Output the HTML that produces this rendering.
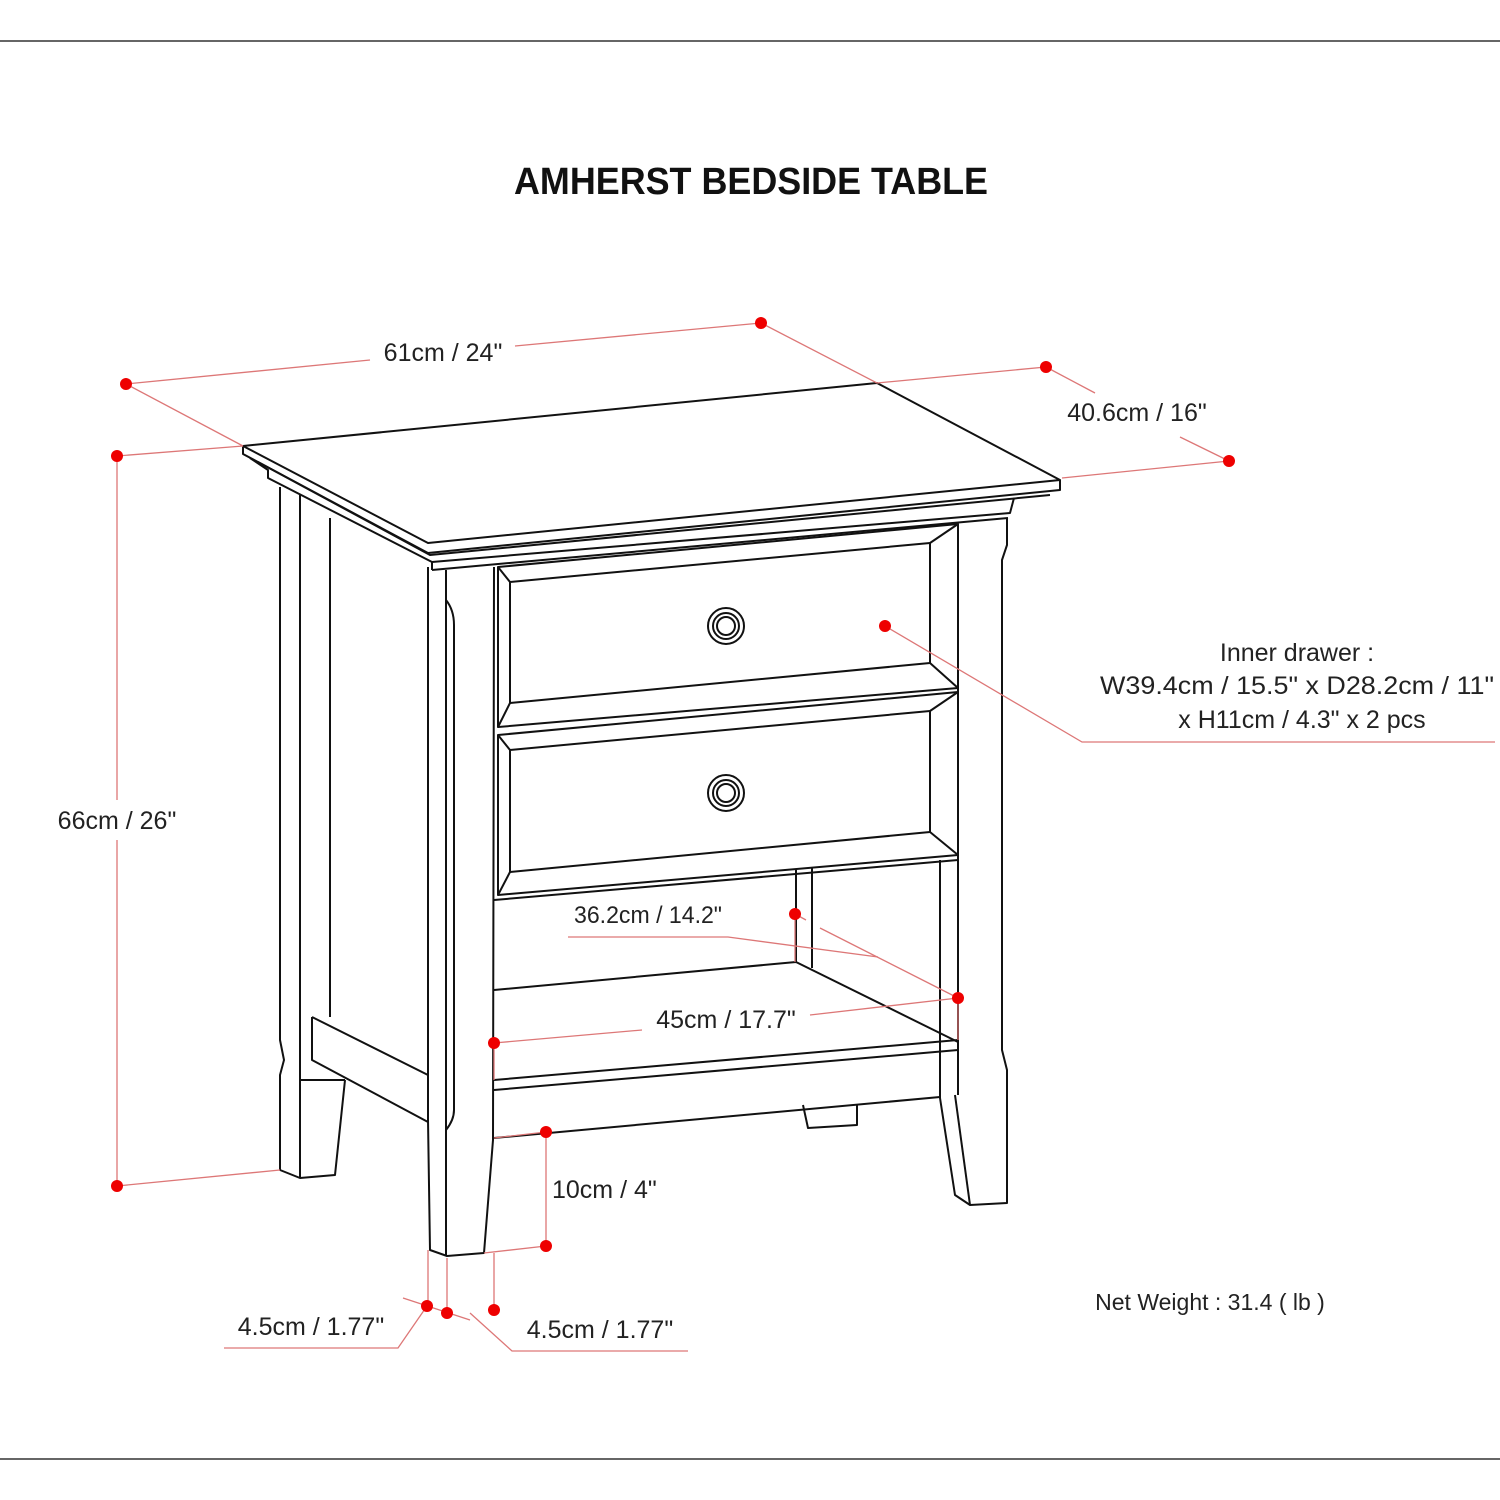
<!DOCTYPE html>
<html><head><meta charset="utf-8"><style>
html,body{margin:0;padding:0;background:#fff;}
svg{display:block;}
text{font-family:"Liberation Sans",sans-serif;fill:#222;}
</style></head><body>
<svg width="1500" height="1500" viewBox="0 0 1500 1500" xmlns="http://www.w3.org/2000/svg">
<line x1="0" y1="41" x2="1500" y2="41" stroke="#333" stroke-width="1.5"/>
<line x1="0" y1="1459" x2="1500" y2="1459" stroke="#333" stroke-width="1.5"/>
<text x="751" y="194" text-anchor="middle" font-size="38" font-weight="bold" style="fill:#111" textLength="474" lengthAdjust="spacingAndGlyphs">AMHERST BEDSIDE TABLE</text>

<g fill="none" stroke="#111" stroke-width="2" stroke-linejoin="round">
<polygon points="243,446 877,383 1060,480 428,543" fill="#fff"/>
<polyline points="243,446 243,454 428,553 1060,490 1060,480"/>
<polyline points="250,458 268,470 268,478 432,562 1010,513 1014,498"/>
<polyline points="258,462 430,555 1050,495"/>
<line x1="432" y1="562" x2="432" y2="570"/>
<line x1="432" y1="570" x2="1008" y2="518"/>
<polyline points="280,487 280,1040 284,1060 280,1075 280,1170 300,1178 335,1175 345,1080"/>
<line x1="300" y1="495" x2="300" y2="1178"/>
<line x1="330" y1="518" x2="330" y2="1017"/>
<polyline points="312,1017 428,1075"/>
<polyline points="312,1017 312,1060 428,1122"/>
<line x1="300" y1="1080" x2="345" y2="1080"/>
<polyline points="428,567 428,1120 430,1250 447,1256 484,1253 493,1140 494,567"/>
<line x1="446" y1="570" x2="446" y2="1256"/>
<path d="M446,600 Q454,610 454,625 L454,1110 Q454,1120 446,1130"/>
<polyline points="958,524 958,1095"/>
<polyline points="940,860 940,1098 955,1195 970,1205 1007,1203 1007,1070 1002,1050 1002,560 1007,545 1007,518"/>
<line x1="955" y1="1095" x2="970" y2="1205"/>
<polygon points="498,567 958,524 958,688 498,727" fill="#fff"/>
<polyline points="510,582 930,543 930,663 510,703 510,582"/>
<line x1="498" y1="567" x2="510" y2="582"/><line x1="958" y1="524" x2="930" y2="543"/>
<line x1="958" y1="688" x2="930" y2="663"/><line x1="498" y1="727" x2="510" y2="703"/>
<circle cx="726" cy="626" r="18"/><circle cx="726" cy="626" r="13"/><circle cx="726" cy="626" r="9"/>
<polygon points="498,735 958,692 958,855 498,895" fill="#fff"/>
<polyline points="510,750 930,711 930,832 510,872 510,750"/>
<line x1="498" y1="735" x2="510" y2="750"/><line x1="958" y1="692" x2="930" y2="711"/>
<line x1="958" y1="855" x2="930" y2="832"/><line x1="498" y1="895" x2="510" y2="872"/>
<circle cx="726" cy="793" r="18"/><circle cx="726" cy="793" r="13"/><circle cx="726" cy="793" r="9"/>
<line x1="494" y1="900" x2="958" y2="860"/>
<line x1="796" y1="870" x2="796" y2="962"/><line x1="812" y1="868" x2="812" y2="968"/>
<polyline points="494,990 796,962 958,1042"/>
<polyline points="494,1080 958,1040 958,1050 494,1090"/>
<line x1="494" y1="1138" x2="940" y2="1097"/>
<polyline points="803,1105 808,1128 857,1125 857,1105"/>
</g>

<g stroke="#d77" stroke-width="1.3" fill="none">
<polyline points="126,384 370,360"/><polyline points="515,346 761,323"/>
<line x1="126" y1="384" x2="243" y2="446"/>
<line x1="761" y1="323" x2="877" y2="383"/>
<line x1="877" y1="383" x2="1046" y2="367"/>
<line x1="1046" y1="367" x2="1095" y2="393"/>
<line x1="1180" y1="437" x2="1229" y2="461"/>
<line x1="1229" y1="461" x2="1062" y2="478"/>
<line x1="117" y1="456" x2="117" y2="800"/><line x1="117" y1="840" x2="117" y2="1186"/>
<line x1="117" y1="456" x2="243" y2="446"/>
<line x1="117" y1="1186" x2="280" y2="1170"/>
<polyline points="885,626 1082,742 1495,742"/>
<line x1="795" y1="914" x2="806" y2="920"/><line x1="820" y1="928" x2="958" y2="998"/>
<line x1="795" y1="914" x2="795" y2="962"/>
<polyline points="568,937 728,937 878,957"/>
<line x1="494" y1="1043" x2="642" y2="1030"/><line x1="810" y1="1015" x2="958" y2="998"/>
<line x1="958" y1="998" x2="958" y2="1040"/>
<line x1="494" y1="1043" x2="494" y2="1080"/>
<line x1="546" y1="1132" x2="546" y2="1246"/>
<line x1="494" y1="1138" x2="546" y2="1132"/>
<line x1="484" y1="1253" x2="546" y2="1246"/>
<line x1="428" y1="1250" x2="428" y2="1306"/>
<line x1="447" y1="1258" x2="447" y2="1313"/>
<line x1="494" y1="1253" x2="494" y2="1310"/>
<line x1="403" y1="1298" x2="470" y2="1320"/>
<polyline points="224,1348 398,1348 427,1306"/>
<polyline points="688,1351 512,1351 470,1313"/>
</g>
<g fill="#e00">
<circle cx="126" cy="384" r="6"/><circle cx="761" cy="323" r="6"/><circle cx="1046" cy="367" r="6"/>
<circle cx="1229" cy="461" r="6"/><circle cx="117" cy="456" r="6"/><circle cx="117" cy="1186" r="6"/>
<circle cx="885" cy="626" r="6"/><circle cx="795" cy="914" r="6"/><circle cx="958" cy="998" r="6"/>
<circle cx="494" cy="1043" r="6"/><circle cx="546" cy="1132" r="6"/><circle cx="546" cy="1246" r="6"/>
<circle cx="427" cy="1306" r="6"/><circle cx="447" cy="1313" r="6"/><circle cx="494" cy="1310" r="6"/>
</g>
<g font-size="25">
<text x="443" y="361" text-anchor="middle">61cm / 24"</text>
<text x="1137" y="421" text-anchor="middle">40.6cm / 16"</text>
<text x="117" y="829" text-anchor="middle">66cm / 26"</text>
<text x="1297" y="661" text-anchor="middle">Inner drawer :</text>
<text x="1297" y="694" text-anchor="middle" textLength="394" lengthAdjust="spacingAndGlyphs">W39.4cm / 15.5" x D28.2cm / 11"</text>
<text x="1302" y="728" text-anchor="middle">x H11cm / 4.3" x 2 pcs</text>
<text x="648" y="923" text-anchor="middle" font-size="24" textLength="148" lengthAdjust="spacingAndGlyphs">36.2cm / 14.2"</text>
<text x="726" y="1028" text-anchor="middle">45cm / 17.7"</text>
<text x="552" y="1198">10cm / 4"</text>
<text x="311" y="1335" text-anchor="middle">4.5cm / 1.77"</text>
<text x="600" y="1338" text-anchor="middle">4.5cm / 1.77"</text>
<text x="1210" y="1310" text-anchor="middle" font-size="23">Net Weight : 31.4 ( lb )</text>
</g>
</svg>
</body></html>
